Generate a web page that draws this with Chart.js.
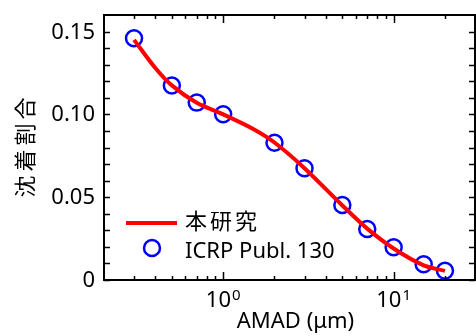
<!DOCTYPE html>
<html>
<head>
<meta charset="utf-8">
<script src="https://cdn.jsdelivr.net/npm/chart.js@4/dist/chart.umd.min.js"></script>
<style>
  body { margin: 0; background: #fff; }
  canvas { display: block; }
</style>
</head>
<body>
<canvas id="chart" width="476" height="336"></canvas>
<script>
// AMAD (um) vs deposition fraction
const amadModel = [0.3, 0.4, 0.5, 0.7, 1, 1.5, 2, 3, 5, 7, 10, 15, 20];
const fracModel = [0.145, 0.128, 0.1175, 0.107, 0.1, 0.0912, 0.083, 0.0675, 0.045, 0.031, 0.019, 0.0088, 0.0055];

const amadICRP = [0.3, 0.5, 0.7, 1, 2, 3, 5, 7, 10, 15, 20];
const fracICRP = [0.146, 0.1174, 0.1071, 0.1001, 0.0829, 0.0675, 0.0453, 0.0308, 0.0198, 0.0095, 0.0056];

const yTickValues = [0, 0.05, 0.10, 0.15];
const yTickLabels = ['0', '0.05', '0.10', '0.15'];
const yMinorTicks = [0.01, 0.02, 0.03, 0.04, 0.06, 0.07, 0.08, 0.09, 0.11, 0.12, 0.13, 0.14];

const xTickValues = [1, 10];
const xTickExps = ['0', '1'];
const xMinorTicks = [0.3, 0.4, 0.5, 0.6, 0.7, 0.8, 0.9, 2, 3, 4, 5, 6, 7, 8, 9, 20];

const seriesNames = ['本研究', 'ICRP Publ. 130'];
const xTitle = 'AMAD (\u03bcm)';
const yTitle = '沈着割合';

const FONT = '"Noto Sans", "Noto Sans CJK JP", sans-serif';
const RED = '#ff0000';
const BLUE = '#0000ff';

const toPoints = (xs, ys) => xs.map((x, i) => ({ x, y: ys[i] }));

const frameAndText = {
  id: 'frameAndText',
  afterDraw(chart) {
    const { ctx, chartArea: a } = chart;
    const xs = chart.scales.x;
    const ys = chart.scales.y;
    ctx.save();
    ctx.strokeStyle = '#000';

    // inward ticks on all four sides
    ctx.lineWidth = 1.5;
    ctx.beginPath();
    [...yTickValues, ...yMinorTicks].forEach(v => {
      const py = Math.round(ys.getPixelForValue(v)) + 0.5;
      ctx.moveTo(a.left, py); ctx.lineTo(a.left + 6, py);
      ctx.moveTo(a.right, py); ctx.lineTo(a.right - 6, py);
    });
    xTickValues.forEach(v => {
      const px = Math.round(xs.getPixelForValue(v)) + 0.5;
      ctx.moveTo(px, a.bottom); ctx.lineTo(px, a.bottom - 8);
      ctx.moveTo(px, a.top); ctx.lineTo(px, a.top + 8);
    });
    xMinorTicks.forEach(v => {
      const px = Math.round(xs.getPixelForValue(v)) + 0.5;
      ctx.moveTo(px, a.bottom); ctx.lineTo(px, a.bottom - 4);
      ctx.moveTo(px, a.top); ctx.lineTo(px, a.top + 4);
    });
    ctx.stroke();

    // frame
    ctx.lineWidth = 2;
    ctx.strokeRect(a.left, a.top, a.right - a.left, a.bottom - a.top);

    ctx.fillStyle = '#000';

    // y tick labels
    ctx.font = '22px ' + FONT;
    ctx.textAlign = 'right';
    ctx.textBaseline = 'alphabetic';
    yTickValues.forEach((v, i) => {
      ctx.fillText(yTickLabels[i], 95, ys.getPixelForValue(v) + 7);
    });

    // x tick labels 10^n
    xTickValues.forEach((v, i) => {
      const px = xs.getPixelForValue(v);
      ctx.font = '22px ' + FONT;
      const wBase = ctx.measureText('10').width;
      ctx.font = '15px ' + FONT;
      const wExp = ctx.measureText(xTickExps[i]).width;
      const x0 = px - (wBase + wExp + 1) / 2;
      ctx.textAlign = 'left';
      ctx.font = '22px ' + FONT;
      ctx.fillText('10', x0, 307);
      ctx.font = '15px ' + FONT;
      ctx.fillText(xTickExps[i], x0 + wBase + 1, 300);
    });

    // x title
    ctx.font = '22px ' + FONT;
    ctx.textAlign = 'center';
    ctx.fillText(xTitle, (a.left + a.right) / 2 + 6, 328);

    // y title
    ctx.save();
    ctx.translate(27, (a.top + a.bottom) / 2);
    ctx.rotate(-Math.PI / 2);
    ctx.font = '22px ' + FONT;
    ctx.letterSpacing = '4px';
    ctx.textAlign = 'center';
    ctx.textBaseline = 'middle';
    ctx.fillText(yTitle, 2, 0);
    ctx.restore();

    // legend
    ctx.strokeStyle = RED;
    ctx.lineWidth = 4;
    ctx.beginPath();
    ctx.moveTo(126, 223); ctx.lineTo(177, 223);
    ctx.stroke();
    ctx.strokeStyle = BLUE;
    ctx.lineWidth = 2.5;
    ctx.beginPath();
    ctx.arc(152, 248, 8, 0, Math.PI * 2);
    ctx.stroke();

    ctx.textAlign = 'left';
    ctx.textBaseline = 'middle';
    ctx.font = '22px ' + FONT;
    ctx.letterSpacing = '3px';
    ctx.fillText(seriesNames[0], 185, 223);
    ctx.letterSpacing = '0px';
    ctx.textBaseline = 'alphabetic';
    ctx.fillText(seriesNames[1], 185, 258);
    ctx.restore();
  }
};

new Chart(document.getElementById('chart'), {
  type: 'line',
  data: {
    datasets: [
      {
        label: seriesNames[0],
        data: toPoints(amadModel, fracModel),
        borderColor: RED,
        borderWidth: 4,
        pointRadius: 0,
        fill: false,
        tension: 0.3,
      },
      {
        label: seriesNames[1],
        data: toPoints(amadICRP, fracICRP),
        showLine: false,
        pointRadius: 8,
        pointBorderWidth: 2.5,
        pointBorderColor: BLUE,
        pointBackgroundColor: 'rgba(0,0,0,0)',
        borderColor: BLUE,
      },
    ],
  },
  options: {
    responsive: false,
    maintainAspectRatio: false,
    animation: false,
    devicePixelRatio: 1,
    layout: { autoPadding: false, padding: { top: 15, right: 1, left: 0, bottom: 0 } },
    plugins: { legend: { display: false }, tooltip: { enabled: false } },
    events: [],
    scales: {
      x: {
        type: 'logarithmic',
        min: 0.2,
        max: 30,
        grid: { display: false, drawTicks: false },
        border: { display: false },
        ticks: { display: false },
        afterFit: s => { s.height = 56; },
      },
      y: {
        min: 0,
        max: 0.16,
        grid: { display: false, drawTicks: false },
        border: { display: false },
        ticks: { display: false },
        afterFit: s => { s.width = 104; },
      },
    },
  },
  plugins: [frameAndText],
});
</script>
</body>
</html>
